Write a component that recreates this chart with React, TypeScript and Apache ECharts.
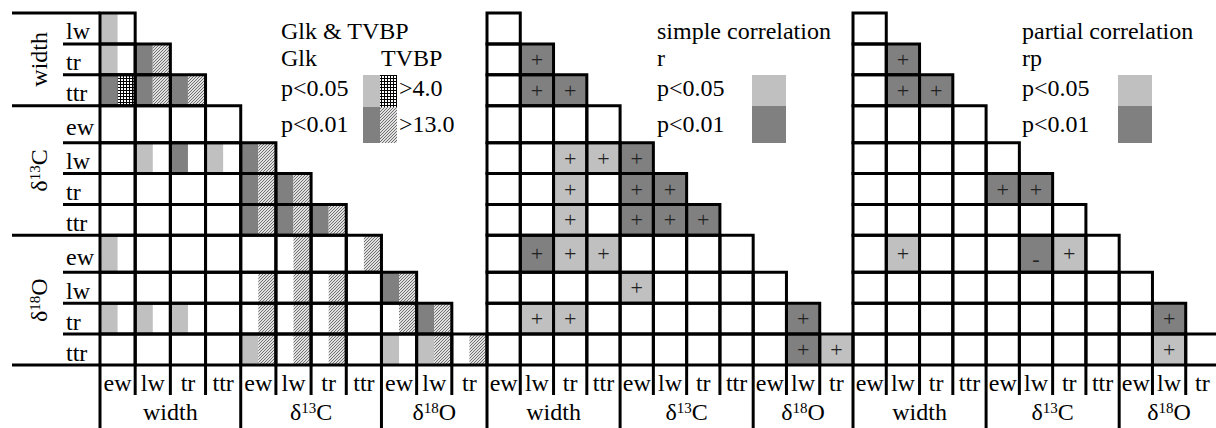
import React, { useEffect, useRef } from 'react';
import * as echarts from 'echarts';

// ---------------- data ----------------
const rowVars = ['lw', 'tr', 'ttr', 'ew', 'lw', 'tr', 'ttr', 'ew', 'lw', 'tr', 'ttr'];
const colVars = ['ew', 'lw', 'tr', 'ttr', 'ew', 'lw', 'tr', 'ttr', 'ew', 'lw', 'tr'];
// group label: [base, superscript, tail]
const groupNames = [['width', '', ''], ['δ', '13', 'C'], ['δ', '18', 'O']];
const rowGroupSizes = [3, 4, 4];
const colGroupSizes = [4, 4, 3];

// Glk: 0 = n.s., 1 = p<0.05, 2 = p<0.01
const glk = [
  [1],
  [1, 2],
  [2, 2, 2],
  [0, 0, 0, 0],
  [0, 1, 2, 1, 2],
  [0, 0, 0, 0, 2, 2],
  [0, 0, 0, 0, 2, 2, 2],
  [1, 0, 0, 0, 0, 0, 0, 0],
  [0, 0, 0, 0, 0, 0, 0, 0, 2],
  [1, 1, 1, 0, 0, 0, 0, 0, 0, 2],
  [0, 0, 0, 0, 1, 0, 0, 0, 1, 1, 0],
];
// TVBP: 0 = none, 1 = >4.0, 2 = >13.0
const tvbp = [
  [0],
  [0, 2],
  [1, 2, 2],
  [0, 0, 0, 0],
  [0, 0, 0, 0, 2],
  [0, 0, 0, 0, 2, 2],
  [0, 0, 0, 0, 2, 2, 2],
  [0, 0, 0, 0, 0, 2, 0, 2],
  [0, 0, 0, 0, 2, 2, 2, 0, 2],
  [0, 0, 0, 0, 2, 2, 2, 0, 2, 2],
  [0, 0, 0, 0, 2, 2, 2, 0, 0, 2, 2],
];
// simple correlation r: sign * level (1 = p<0.05, 2 = p<0.01)
const simpleR = [
  [0],
  [0, 2],
  [0, 2, 2],
  [0, 0, 0, 0],
  [0, 0, 1, 1, 2],
  [0, 0, 1, 0, 2, 2],
  [0, 0, 1, 0, 2, 2, 2],
  [0, 2, 1, 1, 0, 0, 0, 0],
  [0, 0, 0, 0, 1, 0, 0, 0, 0],
  [0, 1, 1, 0, 0, 0, 0, 0, 0, 2],
  [0, 0, 0, 0, 0, 0, 0, 0, 0, 2, 1],
];
// partial correlation rp
const partialR = [
  [0],
  [0, 2],
  [0, 2, 2],
  [0, 0, 0, 0],
  [0, 0, 0, 0, 0],
  [0, 0, 0, 0, 2, 2],
  [0, 0, 0, 0, 0, 0, 0],
  [0, 1, 0, 0, 0, -2, 1, 0],
  [0, 0, 0, 0, 0, 0, 0, 0, 0],
  [0, 0, 0, 0, 0, 0, 0, 0, 0, 2],
  [0, 0, 0, 0, 0, 0, 0, 0, 0, 1, 0],
];

const panelTitles = ['Glk & TVBP', 'simple correlation', 'partial correlation'];
const panelStats = ['Glk', 'r', 'rp'];
const pLevels = ['p<0.05', 'p<0.01'];
const tvbpName = 'TVBP';
const tvbpLevels = ['>4.0', '>13.0'];

// ---------------- layout / style ----------------
const FF = 'Liberation Serif';
const FONT = (s: number) => `${s}px "${FF}"`;
const LIGHT = '#c0c0c0';
const DARK = '#808080';
const TOP = 13;
const GH = 352;
const PANEL_X = [100, 487, 853];
const PANEL_W = [387, 366, 366];
const ROW_WEIGHT = [1, 1, 1, 1.2, 1, 1, 1, 1.2, 1, 1, 1];
const rowEdges: number[] = [0];
ROW_WEIGHT.forEach((w, i) => rowEdges.push(rowEdges[i] + w));
const TOTAL = rowEdges[rowEdges.length - 1];
const LW = 3;

function makePattern(kind: 'cross' | 'diag') {
  const cv = document.createElement('canvas');
  cv.width = 3;
  cv.height = 3;
  const ctx = cv.getContext('2d')!;
  if (kind === 'cross') {
    ctx.fillStyle = '#ffffff';
    ctx.fillRect(0, 0, 3, 3);
    ctx.fillStyle = '#000000';
    ctx.fillRect(0, 0, 3, 1);
    ctx.fillRect(0, 0, 1, 3);
  } else {
    ctx.fillStyle = '#e0e0e0';
    ctx.fillRect(0, 0, 3, 3);
    ctx.fillStyle = '#707070';
    ctx.fillRect(0, 2, 1, 1);
    ctx.fillRect(1, 1, 1, 1);
    ctx.fillRect(2, 0, 1, 1);
  }
  return { image: cv, repeat: 'repeat' } as any;
}

function richLabel(g: number, x: number, y: number, rotation = 0) {
  const [a, b, c] = groupNames[g];
  const text = b ? `{n|${a}}{s|${b}}{n|${c}}` : `{n|${a}}`;
  return {
    type: 'text',
    x,
    y,
    rotation,
    silent: true,
    style: {
      text,
      font: FONT(24),
      fill: '#000',
      align: 'center',
      verticalAlign: 'middle',
      rich: {
        n: { fontSize: 24, fontFamily: FF, fill: '#000', color: '#000' },
        s: { fontSize: 15, fontFamily: FF, fill: '#000', color: '#000', verticalAlign: 'top' },
      },
    },
  };
}

function plainText(t: string, x: number, y: number, align = 'center', size = 24) {
  return {
    type: 'text',
    x,
    y,
    silent: true,
    style: { text: t, font: FONT(size), fill: '#000', align, verticalAlign: 'middle', textAlign: align, textVerticalAlign: 'middle' },
  };
}

export default function App() {
  const ref = useRef<HTMLDivElement>(null);

  useEffect(() => {
    const el = ref.current!;
    const chart = echarts.init(el, null, { renderer: 'svg' });
    const crossPat = makePattern('cross');
    const diagPat = makePattern('diag');

    // cell data: [col, yTop, yBottom, v1, v2]
    const cells = (m1: number[][], m2?: number[][]) => {
      const out: number[][] = [];
      m1.forEach((row, r) => {
        row.forEach((v, c) => {
          out.push([c, rowEdges[r], rowEdges[r + 1], v, m2 ? m2[r][c] : 0]);
        });
      });
      return out;
    };

    const box = (api: any) => {
      const c = api.value(0);
      const a = api.coord([c, api.value(1)]);
      const b = api.coord([c + 1, api.value(2)]);
      return { x: a[0], y: a[1], w: b[0] - a[0], h: b[1] - a[1] };
    };

    const renderGlk = (_p: any, api: any) => {
      const { x, y, w, h } = box(api);
      const g = api.value(3);
      const t = api.value(4);
      const children: any[] = [];
      if (g) children.push({ type: 'rect', shape: { x, y, width: w / 2, height: h }, style: { fill: g === 2 ? DARK : LIGHT } });
      if (t) children.push({ type: 'rect', shape: { x: x + w / 2, y, width: w / 2, height: h }, style: { fill: t === 2 ? diagPat : crossPat } });
      return { type: 'group', children };
    };

    const renderCorr = (_p: any, api: any) => {
      const { x, y, w, h } = box(api);
      const v = api.value(3);
      const children: any[] = [];
      if (v) {
        children.push({ type: 'rect', shape: { x, y, width: w, height: h }, style: { fill: Math.abs(v) === 2 ? DARK : LIGHT } });
        children.push({
          type: 'text',
          x: x + w / 2,
          y: y + h / 2 + (v < 0 ? 5 : 0),
          style: { text: v > 0 ? '+' : '-', font: FONT(22), fill: '#222', align: 'center', verticalAlign: 'middle' },
        });
      }
      return { type: 'group', children };
    };

    const renderBorder = (_p: any, api: any) => {
      const { x, y, w, h } = box(api);
      return { type: 'rect', shape: { x, y, width: w, height: h }, style: { fill: 'none', stroke: '#000', lineWidth: LW } };
    };

    const frameRender = (p: number) => (_params: any, api: any) => {
      const X = (c: number) => api.coord([c, 0])[0];
      const Y = (v: number) => api.coord([0, v])[1];
      const bottom = Y(TOTAL);
      const ch: any[] = [];
      const line = (x1: number, y1: number, x2: number, y2: number) =>
        ch.push({ type: 'line', shape: { x1, y1, x2, y2 }, style: { stroke: '#000', lineWidth: LW } });
      const gStarts = new Set<number>();
      let s0 = 0;
      colGroupSizes.forEach((s) => { gStarts.add(s0); s0 += s; });
      for (let c = 0; c < colVars.length; c++) {
        line(X(c), bottom, X(c), bottom + (gStarts.has(c) ? 64 : 30));
        ch.push(plainText(colVars[c], (X(c) + X(c + 1)) / 2, bottom + 18));
      }
      s0 = 0;
      colGroupSizes.forEach((s, g) => {
        ch.push(richLabel(g, (X(s0) + X(s0 + s)) / 2, bottom + 47));
        s0 += s;
      });
      if (p === 0) {
        const L = X(0);
        const gEdges = new Set<number>([0]);
        let k = 0;
        rowGroupSizes.forEach((s) => { k += s; gEdges.add(k); });
        for (let e = 0; e < rowEdges.length; e++) {
          const y = Y(rowEdges[e]);
          line(gEdges.has(e) ? L - 88 : L - 37, y, L, y);
        }
        rowVars.forEach((rv, r) => {
          ch.push(plainText(rv, L - 34, (Y(rowEdges[r]) + Y(rowEdges[r + 1])) / 2 + 3, 'left'));
        });
        k = 0;
        rowGroupSizes.forEach((s, g) => {
          ch.push(richLabel(g, L - 61, (Y(rowEdges[k]) + Y(rowEdges[k + s])) / 2, Math.PI / 2));
          k += s;
        });
      }
      return { type: 'group', children: ch };
    };

    const series: any[] = [];
    const panelData = [cells(glk, tvbp), cells(simpleR), cells(partialR)];
    panelData.forEach((data, i) => {
      series.push({
        type: 'custom', xAxisIndex: i, yAxisIndex: i, data, clip: false, z: 2, silent: true,
        renderItem: i === 0 ? renderGlk : renderCorr,
      });
      series.push({
        type: 'custom', xAxisIndex: i, yAxisIndex: i, data, clip: false, z: 3, silent: true,
        renderItem: renderBorder,
      });
      series.push({
        type: 'custom', xAxisIndex: i, yAxisIndex: i, data: [[0, 0]], clip: false, z: 4, silent: true,
        renderItem: frameRender(i),
      });
    });

    // legends
    const graphic: any[] = [];
    const legX = [281, 657, 1022];
    const swX = [363, 752, 1118];
    legX.forEach((lx, i) => {
      graphic.push(plainText(panelTitles[i], lx, 31, 'left'));
      graphic.push(plainText(panelStats[i], lx, 58, 'left'));
      graphic.push(plainText(pLevels[0], lx, 88, 'left'));
      graphic.push(plainText(pLevels[1], lx, 124, 'left'));
      if (i === 0) {
        graphic.push({ type: 'rect', shape: { x: swX[i], y: 75, width: 17, height: 32 }, style: { fill: LIGHT } });
        graphic.push({ type: 'rect', shape: { x: swX[i] + 17, y: 75, width: 17, height: 32 }, style: { fill: crossPat } });
        graphic.push({ type: 'rect', shape: { x: swX[i], y: 107, width: 17, height: 36 }, style: { fill: DARK } });
        graphic.push({ type: 'rect', shape: { x: swX[i] + 17, y: 107, width: 17, height: 36 }, style: { fill: diagPat } });
        graphic.push(plainText(tvbpName, 381, 58, 'left'));
        graphic.push(plainText(tvbpLevels[0], 399, 88, 'left'));
        graphic.push(plainText(tvbpLevels[1], 399, 124, 'left'));
      } else {
        graphic.push({ type: 'rect', shape: { x: swX[i], y: 75, width: 34, height: 31 }, style: { fill: LIGHT } });
        graphic.push({ type: 'rect', shape: { x: swX[i], y: 106, width: 34, height: 37 }, style: { fill: DARK } });
      }
    });

    const option: any = {
      animation: false,
      backgroundColor: '#ffffff',
      grid: PANEL_X.map((x, i) => ({ left: x, top: TOP, width: PANEL_W[i], height: GH, containLabel: false, outerBoundsMode: 'none' })),
      xAxis: PANEL_X.map((_, i) => ({ type: 'value', gridIndex: i, min: 0, max: colVars.length, show: false })),
      yAxis: PANEL_X.map((_, i) => ({ type: 'value', gridIndex: i, min: 0, max: TOTAL, inverse: true, show: false })),
      series,
      graphic,
    };
    chart.setOption(option);
    return () => chart.dispose();
  }, []);

  return (
    <div
      ref={ref}
      style={{ position: 'absolute', left: 0, top: 0, width: 1216, height: 428, background: '#fff' }}
    />
  );
}
